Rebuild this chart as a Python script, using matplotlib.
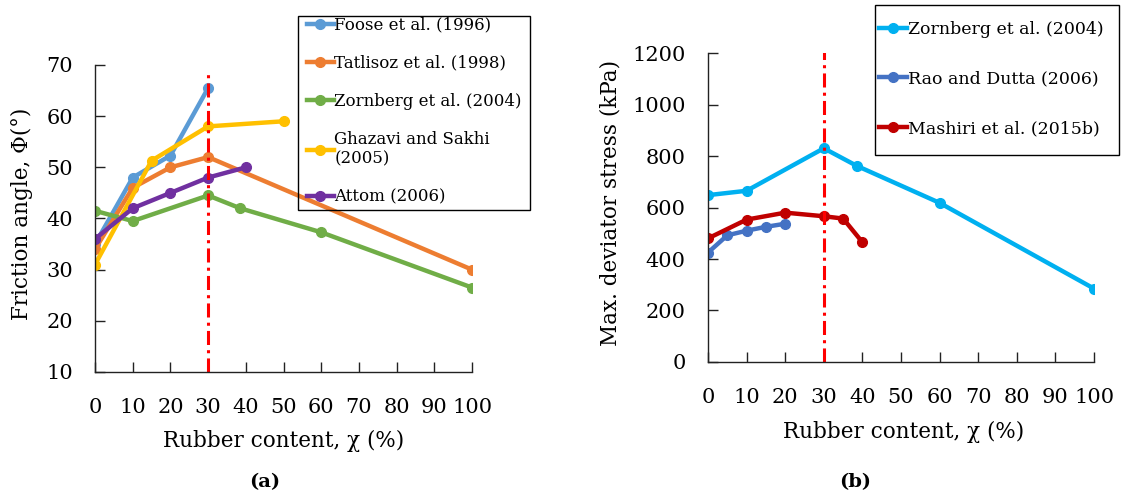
import numpy as np
import matplotlib.pyplot as plt
import matplotlib as mpl
from matplotlib.patches import Rectangle

mpl.rcParams['font.family'] = 'DejaVu Serif'
mpl.rcParams['axes.linewidth'] = 1

# (a) friction angle vs rubber content
foose_x = [0, 10, 20, 30]
foose_y = [35, 48, 52.3, 65.5]
tatlisoz_x = [0, 10, 20, 30, 100]
tatlisoz_y = [34, 46, 50, 52, 30]
zorn_a_x = [0, 10, 30, 38.5, 60, 100]
zorn_a_y = [41.5, 39.5, 44.5, 42, 37.3, 26.5]
ghazavi_x = [0, 15, 30, 50]
ghazavi_y = [31, 51.3, 58, 59]
attom_x = [0, 10, 20, 30, 40]
attom_y = [36, 42, 45, 48, 50]

# (b) max deviator stress vs rubber content
zorn_b_x = [0, 10, 30, 38.5, 60, 100]
zorn_b_y = [648, 665, 830, 762, 618, 285]
rao_x = [0, 5, 10, 15, 20]
rao_y = [425, 492, 510, 525, 537]
mashiri_x = [0, 10, 20, 30, 35, 40]
mashiri_y = [480, 553, 580, 566, 557, 465]

xticks = np.arange(0, 101, 10)

W, H = 1126, 495
fig = plt.figure(figsize=(W / 100, H / 100), dpi=100)
ax1 = fig.add_axes([0.0844, 0.2485, 0.3348, 0.6202])
ax2 = fig.add_axes([0.6288, 0.2687, 0.3428, 0.6242])

lw, ms = 3.2, 7
dashdot = (0, (4.6, 1.7, 1, 1.7))
ax1.plot(foose_x, foose_y, '-o', c='#5B9BD5', lw=lw, ms=ms, label='Foose et al. (1996)')
ax1.plot(tatlisoz_x, tatlisoz_y, '-o', c='#ED7D31', lw=lw, ms=ms, label='Tatlisoz et al. (1998)')
ax1.plot(zorn_a_x, zorn_a_y, '-o', c='#70AD47', lw=lw, ms=ms, label='Zornberg et al. (2004)')
ax1.plot(ghazavi_x, ghazavi_y, '-o', c='#FFC000', lw=lw, ms=ms, label='Ghazavi and Sakhi\n(2005)')
ax1.plot(attom_x, attom_y, '-o', c='#7030A0', lw=lw, ms=ms, label='Attom (2006)')
ax1.plot([30, 30], [10, 68.8], c='#FF0000', lw=2.2, ls=dashdot)

ax2.plot(zorn_b_x, zorn_b_y, '-o', c='#00B0F0', lw=lw, ms=ms, label='Zornberg et al. (2004)')
ax2.plot(rao_x, rao_y, '-o', c='#4472C4', lw=lw, ms=ms, label='Rao and Dutta (2006)')
ax2.plot(mashiri_x, mashiri_y, '-o', c='#C00000', lw=lw, ms=ms, label='Mashiri et al. (2015b)')
ax2.plot([30, 30], [0, 1210], c='#FF0000', lw=2.2, ls=dashdot)

ax1.set_xlim(0, 100)
ax1.set_ylim(10, 70)
ax1.set_yticks(np.arange(10, 71, 10))
ax2.set_xlim(0, 100)
ax2.set_ylim(0, 1200)
ax2.set_yticks(np.arange(0, 1201, 200))

for ax in (ax1, ax2):
    ax.set_xticks(xticks)
    ax.spines['top'].set_visible(False)
    ax.spines['right'].set_visible(False)
    for s in ('left', 'bottom'):
        ax.spines[s].set_color('#222222')
    ax.tick_params(direction='in', length=7, width=1, labelsize=15, pad=16, colors='#222222')
    ax.tick_params(axis='x', pad=19)
    ax.tick_params(labelcolor='black')
    ax.set_xlabel('Rubber content, χ (%)', fontsize=15.5)

ax1.set_ylabel('Friction angle, Φ(°)', fontsize=15.5)
ax2.set_ylabel('Max. deviator stress (kPa)', fontsize=15.5)
ax1.xaxis.set_label_coords(0.499, -0.19)
ax2.xaxis.set_label_coords(0.508, -0.19)
ax1.yaxis.set_label_coords(-0.165, 0.515)
ax2.yaxis.set_label_coords(-0.225, 0.515)

# legends without their own frame; plain outline boxes drawn separately
leg_kw = dict(loc='upper left', frameon=False, handlelength=1.6, handletextpad=0.05,
              borderaxespad=0, borderpad=0)
fig.legend(*ax1.get_legend_handles_labels(), bbox_to_anchor=(307 / W, 1 - 16.6 / H),
           fontsize=12, labelspacing=1.27, **leg_kw)
fig.legend(*ax2.get_legend_handles_labels(), bbox_to_anchor=(879 / W, 1 - 21 / H),
           fontsize=12.5, labelspacing=1.87, **leg_kw)


def outline(x0, y0, x1, y1):
    fig.add_artist(Rectangle((x0 / W, 1 - y1 / H), (x1 - x0) / W, (y1 - y0) / H,
                             transform=fig.transFigure, fill=False, ec='black', lw=1))


outline(298, 16, 530, 210)
outline(875, 5, 1119, 155)

fig.text(265 / W, 1 - 482 / H, '(a)', fontsize=14, fontweight='bold', ha='center', va='center')
fig.text(855 / W, 1 - 482 / H, '(b)', fontsize=14, fontweight='bold', ha='center', va='center')

fig.savefig('out.png', dpi=100)
